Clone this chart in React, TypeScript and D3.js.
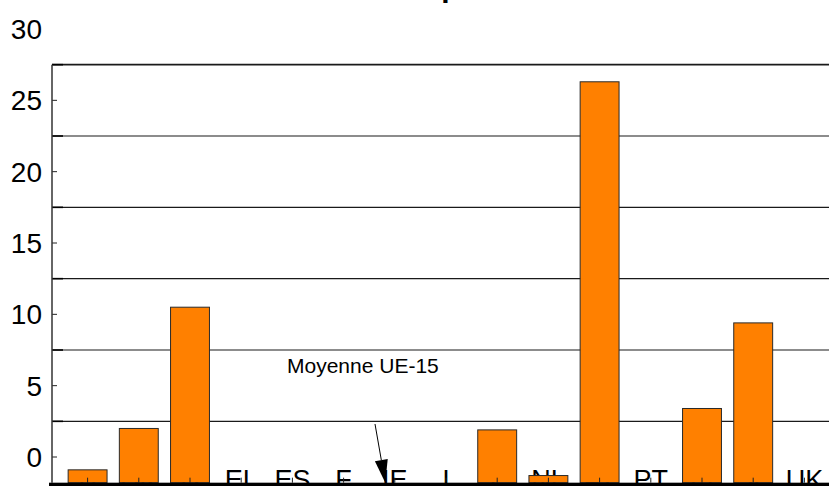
import React from "react";
import * as d3 from "d3";

// Member states, EU-15 order
const categories = ["B", "DK", "D", "EL", "ES", "F", "IE", "I", "L", "NL", "AT", "PT", "FI", "SE", "UK"];
// Values per country (null = no bar)
const values: (number | null)[] = [-0.9, 2.0, 10.5, null, null, null, null, null, 1.9, -1.3, 26.3, null, 3.4, 9.4, null];
const tickValues = [0, 5, 10, 15, 20, 25, 30];
const gridValues = [2.5, 7.5, 12.5, 17.5, 22.5, 27.5];

const W = 829;
const H = 486;
const FONT = "'Liberation Sans', Arial, Helvetica, sans-serif";
const axisMin = -1.8;

export default function App() {
  const y = d3.scaleLinear().domain([0, 30]).range([457, 29]);
  const x = d3.scaleBand<string>().domain(categories).range([62, 830]).paddingInner(0.24).paddingOuter(0.12);
  const step = x.step();
  const center = (c: string) => (x(c) ?? 0) + x.bandwidth() / 2;
  const left = 52;
  const base = y(axisMin);
  const top = y(27.5);

  // annotation arrow geometry
  const ax0 = 375, ay0 = 424;
  const ax1 = center("IE") - 9.5, ay1 = base;
  const len = Math.hypot(ax1 - ax0, ay1 - ay0);
  const ux = (ax1 - ax0) / len, uy = (ay1 - ay0) / len;
  const headL = 23, headW = 6.5;
  const bx = ax1 - ux * headL, by = ay1 - uy * headL;
  const head = [
    [ax1, ay1],
    [bx - uy * headW, by + ux * headW],
    [bx + uy * headW, by - ux * headW],
  ];

  return (
    <svg width={W} height={H} style={{ position: "absolute", left: 0, top: 0, background: "#fff" }} fontFamily={FONT}>
      <rect x={0} y={0} width={W} height={H} fill="#fff" />
      {/* title */}
      <text x={169} y={-3} fontSize={30} fontWeight="bold" fill="#000">Croissance de l'emploi</text>

      {/* gridlines */}
      {gridValues.map((v) => (
        <line key={v} x1={left} x2={W} y1={y(v)} y2={y(v)} stroke="#1a1a1a" strokeWidth={v === 27.5 ? 1.6 : 1.1} />
      ))}
      {gridValues.map((v) => (
        <line key={"g" + v} x1={left} x2={left + 11} y1={y(v)} y2={y(v)} stroke="#000" strokeWidth={1.6} />
      ))}

      {/* y tick labels */}
      {tickValues.map((v) => (
        <text key={v} x={42} y={y(v) + 10} fontSize={28} textAnchor="end" fill="#000">{v}</text>
      ))}
      {tickValues.filter((v) => v < 30).map((v) => (
        <line key={"t" + v} x1={left} x2={left + 5} y1={y(v)} y2={y(v)} stroke="#222" strokeWidth={1} />
      ))}

      {/* category labels */}
      {categories.map((c) => (
        <text key={c} x={center(c)} y={489} fontSize={27} textAnchor="middle" fill="#000">{c}</text>
      ))}

      {/* bars */}
      {categories.map((c, i) => {
        const v = values[i];
        if (v === null) return null;
        const yt = y(v);
        return (
          <rect key={c} x={x(c)} y={yt} width={x.bandwidth()} height={base - yt} fill="#FF8000" stroke="#2a2a2a" strokeWidth={1} />
        );
      })}

      {/* category ticks */}
      {categories.map((c) => (
        <line key={"ct" + c} x1={center(c)} x2={center(c)} y1={base - 5} y2={base} stroke="#222" strokeWidth={1} />
      ))}

      {/* value axis */}
      <line x1={left} x2={left} y1={top} y2={base} stroke="#333" strokeWidth={1.5} />
      {/* category axis */}
      <rect x={49} y={base} width={W - 49} height={4} fill="#000" />

      {/* EU-15 average annotation */}
      <text x={287} y={373} fontSize={21} fill="#000">Moyenne UE-15</text>
      <line x1={ax0} y1={ay0} x2={bx} y2={by} stroke="#000" strokeWidth={1} />
      <polygon points={head.map((p) => p.join(",")).join(" ")} fill="#000" />
    </svg>
  );
}
